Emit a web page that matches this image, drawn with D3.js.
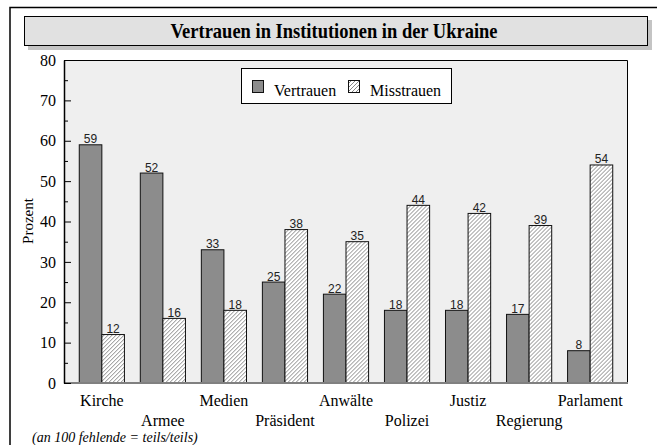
<!DOCTYPE html>
<html>
<head>
<meta charset="utf-8">
<script src="https://cdn.jsdelivr.net/npm/d3@7/dist/d3.min.js"></script>
<style>
    body{ margin:0; background:#fff; }
    svg{ display:block; }
</style>
</head>
<body>
<div id="chart"></div>
<script>
'use strict';

// values
const categories = ["Kirche", "Armee", "Medien", "Präsident", "Anwälte", "Polizei", "Justiz", "Regierung", "Parlament"];
const vertrauen = [59, 52, 33, 25, 22, 18, 18, 17, 8];
const misstrauen = [12, 16, 18, 38, 35, 44, 42, 39, 54];
const seriesNames = ["Vertrauen", "Misstrauen"];
const yTicks = [0, 10, 20, 30, 40, 50, 60, 70, 80];

const width = 657, height = 445;
const plot = {left: 64, right: 628, top: 60, bottom: 383};
const serif = "'Liberation Serif', 'Times New Roman', serif";
const sans = "'Liberation Sans', Arial, sans-serif";

const svg = d3.select("#chart").append("svg")
    .attr("width", width)
    .attr("height", height);

// hatch pattern for Misstrauen
const defs = svg.append("defs");
const hatch = defs.append("pattern")
    .attr("id", "hatch")
    .attr("patternUnits", "userSpaceOnUse")
    .attr("width", 4)
    .attr("height", 4);
hatch.append("rect").attr("width", 4).attr("height", 4).attr("fill", "#fff");
hatch.append("path")
    .attr("d", "M-1,1 l2,-2 M0,4 l4,-4 M3,5 l2,-2")
    .attr("stroke", "#555")
    .attr("stroke-width", 0.7);

// outer frame (runs off the right and bottom edge)
svg.append("path")
    .attr("d", `M10,${height + 5} V7.5 H${width + 5}`)
    .attr("fill", "none")
    .attr("stroke", "#000")
    .attr("stroke-width", 1.5);

// title box with shadow
svg.append("rect")
    .attr("x", 28).attr("y", 20).attr("width", 624).attr("height", 30)
    .attr("fill", "#c4c4c4");
svg.append("rect")
    .attr("x", 24.5).attr("y", 16.5).attr("width", 623).attr("height", 29)
    .attr("fill", "#e1e1e1")
    .attr("stroke", "#000");
svg.append("text")
    .attr("transform", "translate(334,37.5) scale(1,1.12)")
    .attr("text-anchor", "middle")
    .style("font-family", serif)
    .style("font-weight", "bold")
    .style("font-size", "18.5px")
    .text("Vertrauen in Institutionen in der Ukraine");

// plot area
svg.append("rect")
    .attr("x", plot.left).attr("y", plot.top)
    .attr("width", plot.right - plot.left).attr("height", plot.bottom - plot.top)
    .attr("fill", "#efefef");
svg.append("path")
    .attr("d", `M${plot.left},${plot.top + 0.5} H${plot.right - 0.5} V${plot.bottom}`)
    .attr("fill", "none")
    .attr("stroke", "#000");

const x = d3.scaleBand()
    .domain(categories)
    .range([plot.left, plot.right])
    .paddingInner(0.26)
    .paddingOuter(0.25);

const xs = d3.scaleBand()
    .domain(seriesNames)
    .range([0, x.bandwidth()]);

const y = d3.scaleLinear()
    .domain([0, 80])
    .range([plot.bottom, plot.top]);

// bars
const rows = categories.map((c, i) => ({cat: c, values: [vertrauen[i], misstrauen[i]]}));
const groups = svg.append("g").attr("class", "bars")
    .selectAll("g")
    .data(rows)
    .join("g")
    .attr("transform", d => `translate(${x(d.cat)},0)`);

groups.selectAll("rect")
    .data(d => d.values.map((v, k) => ({name: seriesNames[k], value: v})))
    .join("rect")
    .attr("x", d => xs(d.name))
    .attr("y", d => y(d.value))
    .attr("width", xs.bandwidth())
    .attr("height", d => y(0) - y(d.value))
    .attr("fill", d => d.name === "Vertrauen" ? "#8c8c8c" : "url(#hatch)")
    .attr("stroke", "#111")
    .attr("stroke-width", 1);

groups.selectAll("text")
    .data(d => d.values.map((v, k) => ({name: seriesNames[k], value: v})))
    .join("text")
    .attr("x", d => xs(d.name) + xs.bandwidth() / 2)
    .attr("y", d => y(d.value) - 1.5)
    .attr("text-anchor", "middle")
    .style("font-family", sans)
    .style("font-size", "12px")
    .attr("fill", "#222")
    .text(d => d.value);

// bottom baseline
svg.append("line")
    .attr("x1", plot.left).attr("x2", plot.right)
    .attr("y1", plot.bottom).attr("y2", plot.bottom)
    .attr("stroke", "#808080")
    .attr("stroke-width", 2);

// y axis, ticks pointing inward
const yAxis = svg.append("g")
    .attr("transform", `translate(${plot.left},0)`)
    .call(d3.axisLeft(y).tickValues(yTicks).tickSizeInner(-7).tickSizeOuter(0).tickPadding(8));
svg.append("g")
    .attr("transform", `translate(${plot.left},0)`)
    .call(d3.axisLeft(y).tickValues(d3.range(5, 80, 10)).tickSizeInner(-4).tickSizeOuter(0).tickFormat(""))
    .select(".domain").remove();
svg.selectAll(".tick line").attr("stroke", "#000");
yAxis.select(".domain").attr("stroke", "#000").attr("stroke-width", 1.5);
yAxis.selectAll("text")
    .style("font-family", serif)
    .style("font-size", "16px")
    .attr("fill", "#000");

svg.append("text")
    .attr("transform", "translate(33,221) rotate(-90)")
    .attr("text-anchor", "middle")
    .style("font-family", serif)
    .style("font-size", "15px")
    .text("Prozent");

// category labels, staggered over two rows
const xAxis = svg.append("g")
    .attr("transform", `translate(0,${plot.bottom})`)
    .call(d3.axisBottom(x).tickSize(0));
xAxis.select(".domain").remove();
xAxis.selectAll("text")
    .attr("y", (d, i) => i % 2 === 0 ? 23 : 43)
    .attr("dy", 0)
    .style("font-family", serif)
    .style("font-size", "16px")
    .attr("fill", "#000");

// legend
const legend = svg.append("g").attr("class", "legend");
legend.append("rect")
    .attr("x", 241.5).attr("y", 68.5).attr("width", 210).attr("height", 35)
    .attr("fill", "#fff")
    .attr("stroke", "#000");
const legendX = [252, 348];
seriesNames.forEach((name, k) => {
    legend.append("rect")
        .attr("x", legendX[k] + 0.5).attr("y", 80.5).attr("width", 11).attr("height", 12)
        .attr("fill", k === 0 ? "#8c8c8c" : "url(#hatch)")
        .attr("stroke", "#111");
    legend.append("text")
        .attr("x", legendX[k] + 22).attr("y", 96)
        .style("font-family", serif)
        .style("font-size", "16px")
        .text(name);
});

// footnote
svg.append("text")
    .attr("x", 32).attr("y", 442)
    .style("font-family", serif)
    .style("font-style", "italic")
    .style("font-size", "14px")
    .text("(an 100 fehlende = teils/teils)");
</script>
</body>
</html>
